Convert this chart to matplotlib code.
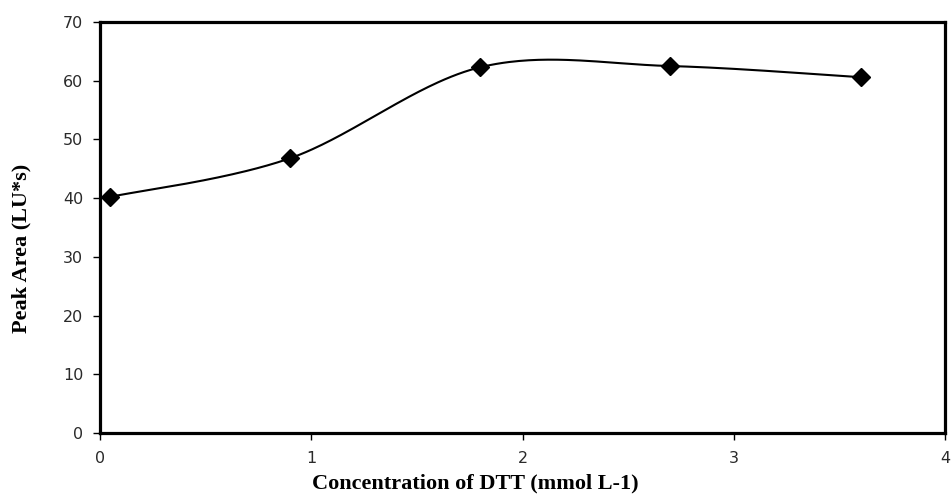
import numpy as np
import matplotlib
matplotlib.use("Agg")
import matplotlib.pyplot as plt

conc = [0.045, 0.9, 1.8, 2.7, 3.6]
area = [40.2, 46.8, 62.3, 62.5, 60.6]
xticks = [0, 1, 2, 3, 4]
yticks = [0, 10, 20, 30, 40, 50, 60, 70]
xlabel = "Concentration of DTT (mmol L-1)"
ylabel = "Peak Area (LU*s)"


def excel_smooth(x, y, n=60):
    P = np.column_stack([x, y]).astype(float)
    ext = np.vstack([P[0], P, P[-1]])
    out = []
    for i in range(len(P) - 1):
        p0, p1, p2, p3 = ext[i], ext[i + 1], ext[i + 2], ext[i + 3]
        c1 = p1 + (p2 - p0) / 6.0
        c2 = p2 - (p3 - p1) / 6.0
        t = np.linspace(0, 1, n)[:, None]
        seg = ((1 - t) ** 3) * p1 + 3 * ((1 - t) ** 2) * t * c1 + 3 * (1 - t) * t ** 2 * c2 + t ** 3 * p2
        out.append(seg if i == 0 else seg[1:])
    s = np.vstack(out)
    return s[:, 0], s[:, 1]


fig = plt.figure(figsize=(9.51, 4.97), dpi=100)
ax = fig.add_axes([0.1052, 0.1288, 0.8885, 0.8269])

sx, sy = excel_smooth(conc, area)
ax.plot(sx, sy, color="black", lw=1.5, zorder=2)
ax.plot(conc, area, linestyle="none", marker="D", ms=9, color="black", zorder=3)

ax.set_xlim(0, 4)
ax.set_ylim(0, 70)
ax.set_xticks(xticks)
ax.set_yticks(yticks)
ax.tick_params(direction="out", length=5, width=1, labelsize=11.5, colors="black")
ax.tick_params(axis="x", pad=8)
ax.tick_params(axis="y", pad=7)
for lab in ax.get_xticklabels() + ax.get_yticklabels():
    lab.set_fontfamily("DejaVu Sans")
    lab.set_color("#2a2a2a")
for sp in ax.spines.values():
    sp.set_linewidth(2.3)
    sp.set_color("black")

ax.set_xlabel(xlabel, fontfamily="Liberation Serif", fontweight="bold", fontsize=16)
ax.xaxis.set_label_coords((475 - 100) / 845, -(484 - 433) / 411, transform=ax.transAxes)
ax.xaxis.label.set_va("center")
ax.set_ylabel(ylabel, fontfamily="Liberation Serif", fontweight="bold", fontsize=16)
ax.yaxis.set_label_coords(-(100 - 21) / 845, (433 - 248) / 411, transform=ax.transAxes)
ax.yaxis.label.set_va("center")

fig.savefig("out.png", dpi=100)
